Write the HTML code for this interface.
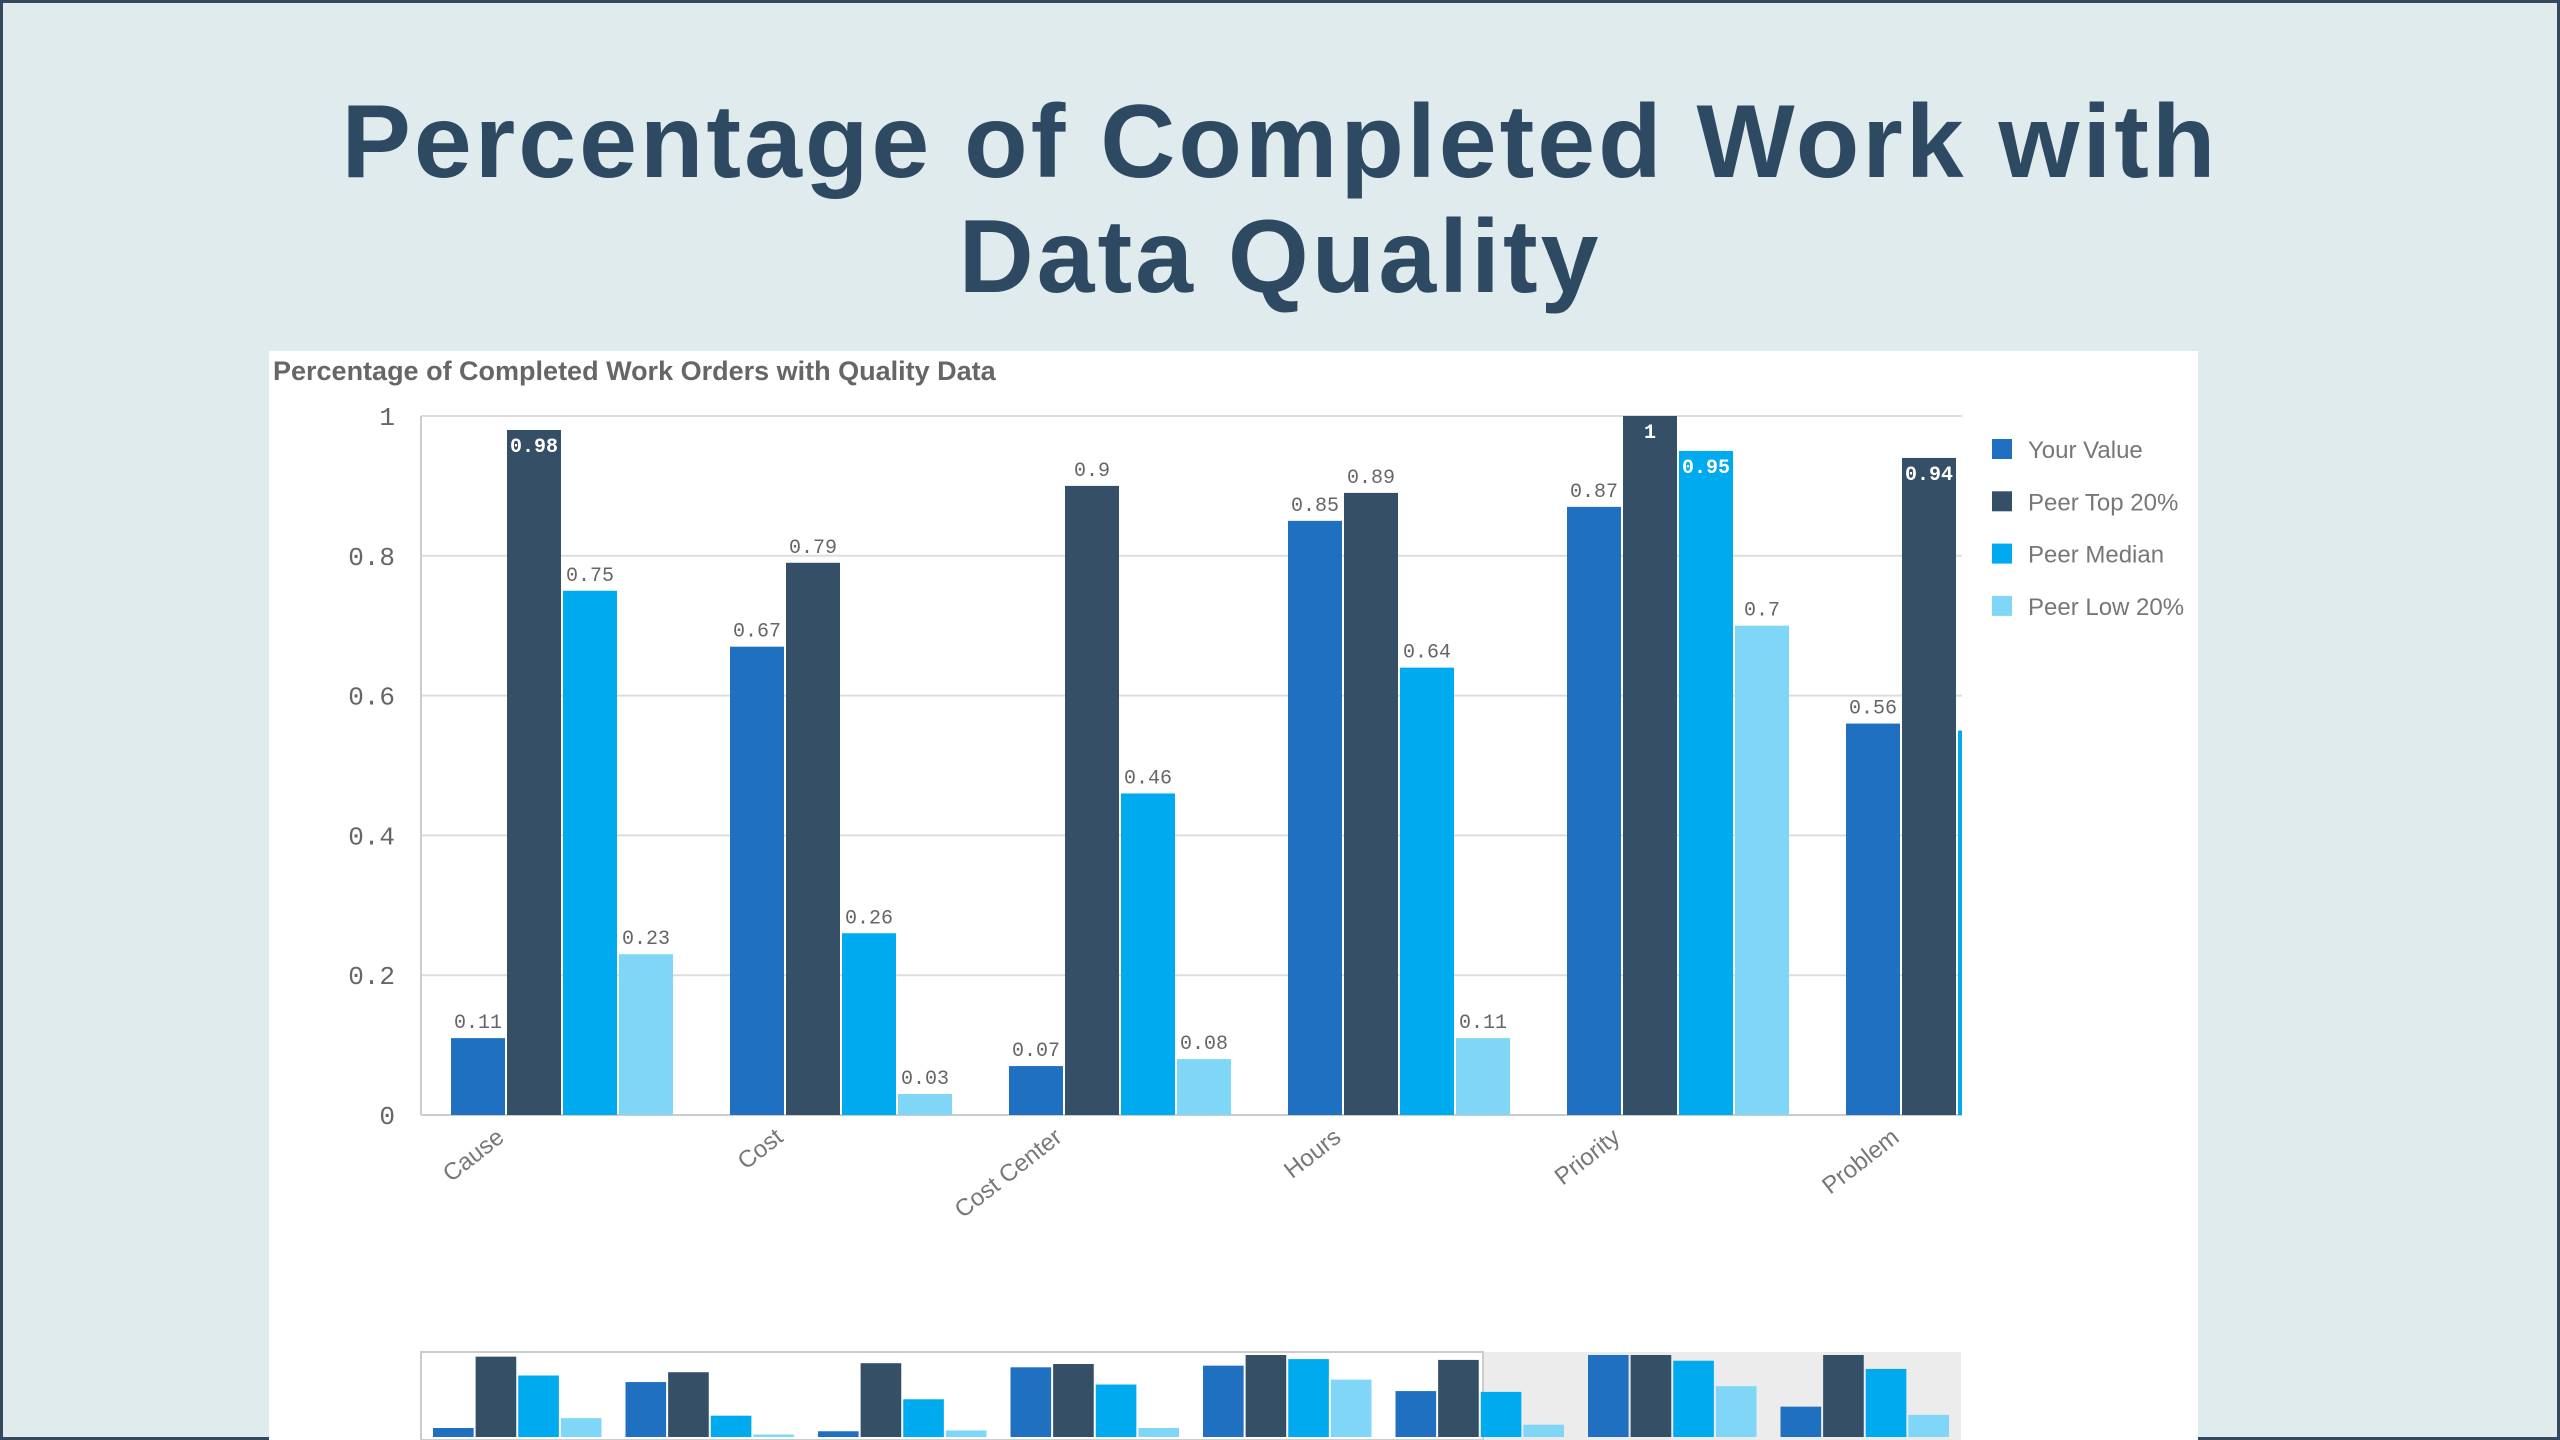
<!DOCTYPE html>
<html><head><meta charset="utf-8"><style>
html,body{margin:0;padding:0}
body{width:2560px;height:1440px;overflow:hidden;background:#e0ebee;position:relative;font-family:"Liberation Sans",sans-serif}
#frame{position:absolute;left:0;top:0;width:2554px;height:1434px;border:3px solid #34495e}
#title{position:absolute;left:0;width:2560px;top:85px;text-align:center;font-weight:bold;font-size:104px;line-height:115px;color:#2e4a62;letter-spacing:3px}
#panel{position:absolute;left:269px;top:351px;width:1929px;height:1089px;background:#fff}
#sub{position:absolute;left:273px;top:356px;font-size:27px;font-weight:bold;color:#666}
svg{position:absolute;left:0;top:0}
</style></head><body>
<div id="frame"></div>
<div id="title">Percentage of Completed Work with<br>Data Quality</div>
<div id="panel"></div>
<div id="sub">Percentage of Completed Work Orders with Quality Data</div>
<svg id="chart" width="2560" height="1440"></svg>
<script>
const categories=["Cause","Cost","Cost Center","Hours","Priority","Problem","Status","Type"];
const yourValue=[0.11,0.67,0.07,0.85,0.87,0.56,1,0.37];
const peerTop=[0.98,0.79,0.9,0.89,1,0.94,1,1];
const peerMedian=[0.75,0.26,0.46,0.64,0.95,0.55,0.93,0.83];
const peerLow=[0.23,0.03,0.08,0.11,0.7,0.15,0.62,0.27];
const seriesNames=["Your Value","Peer Top 20%","Peer Median","Peer Low 20%"];
const yTicks=[0,0.2,0.4,0.6,0.8,1];
const yTickLabels=["0","0.2","0.4","0.6","0.8","1"];
const colors=["#1f70c1","#354f66","#00aaee","#7fd6f7"];
const series=[yourValue,peerTop,peerMedian,peerLow];
const NS="http://www.w3.org/2000/svg";
const svg=document.getElementById('chart');
function mk(t,a,p){const e=document.createElementNS(NS,t);for(const k in a)e.setAttribute(k,a[k]);(p||svg).appendChild(e);return e;}
const X0=421,X1=1962,Y0=1115,Y1=416,BAND=279,BW=54,GAP=2;
const y=v=>Y0-(Y0-Y1)*v;
const xb=(i,s)=>X0+i*BAND+30+s*(BW+GAP);
// grid
yTicks.forEach((t,i)=>{
 const g=mk('line',{x1:X0,x2:X1,y1:y(t),y2:y(t),stroke:i==0?'#ccc':'#ddd','stroke-width':2});
 
 const l=mk('text',{x:395,y:y(t)+9,'text-anchor':'end','font-family':'Liberation Mono, monospace','font-size':26,fill:'#666'});
 l.textContent=yTickLabels[i];
 
});
const ax=mk('line',{x1:X0,x2:X0,y1:Y1,y2:Y0,stroke:'#ccc','stroke-width':2});

mk('defs',{}).innerHTML='<clipPath id="pc"><rect x="'+X0+'" y="380" width="'+(X1-X0)+'" height="800"/></clipPath>';
const gBars=mk('g',{'clip-path':'url(#pc)'});
categories.forEach((c,i)=>{
 series.forEach((arr,s)=>{
  const v=arr[i],x=xb(i,s);
  const r=mk('rect',{x:x,y:y(v),width:BW,height:Y0-y(v),fill:colors[s]},gBars);
  
  
  const inside=v>=0.93;
  const t=mk('text',{x:x+BW/2,y:inside?y(v)+22:y(v)-10,'text-anchor':'middle','font-family':'Liberation Mono, monospace','font-size':20,fill:inside?'#fff':'#666','font-weight':inside?'bold':'normal'},gBars);
  t.textContent=String(v);
  
 });
 const cx=X0+i*BAND+BAND/2;
 if(cx<X1){
  const t=mk('text',{x:cx-55,y:1140,'text-anchor':'end','font-size':24,fill:'#777',transform:'rotate(-38 '+(cx-55)+' 1140)'});
  t.textContent=c;
  
 }
});
// legend
seriesNames.forEach((n,s)=>{
 const yy=449+s*52.3;
 const r=mk('rect',{x:1992,y:yy-10,width:20,height:20,fill:colors[s]});
 
 const t=mk('text',{x:2028,y:yy+9,'font-size':24,fill:'#777'});
 t.textContent=n;
 
});
// mini chart
const MX0=421,MX1=1961,MY0=1437,MY1=1355,MB=(MX1-MX0)/categories.length,MW=(MB-30)/4;
const sel=mk('rect',{x:1483,y:1352,width:MX1-1483,height:88,fill:'#ececec'});

const frame=mk('rect',{x:MX0,y:1352,width:1483-MX0,height:88,fill:'none',stroke:'#ccc','stroke-width':2});

categories.forEach((c,i)=>{
 series.forEach((arr,s)=>{
  const v=arr[i];const h=(MY0-MY1)*v;
  const r=mk('rect',{x:MX0+i*MB+12+s*(MW+2),y:MY0-h,width:MW,height:h,fill:colors[s]});
  
 });
});
</script>
</body></html>
